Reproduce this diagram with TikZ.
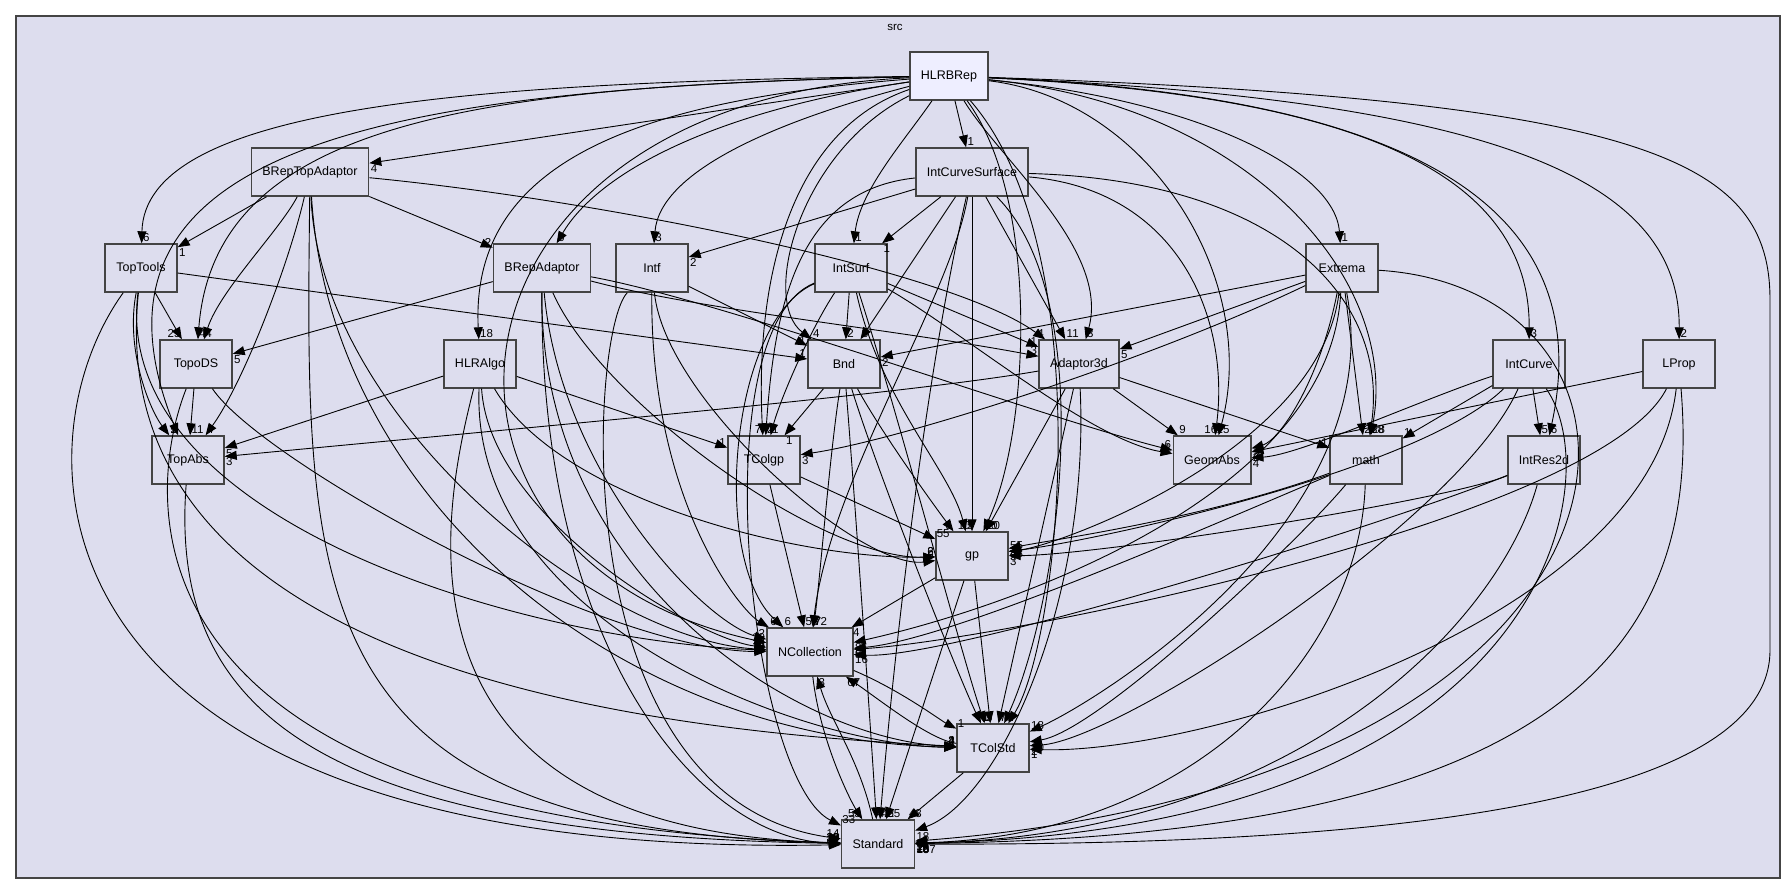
\documentclass[tikz,border=0pt]{standalone}
\usepackage{fontspec}
\setmainfont{Liberation Sans}
\usetikzlibrary{arrows.meta}
\definecolor{dirbg}{HTML}{DDDDEE}
\definecolor{topbg}{HTML}{EEEEFF}
\definecolor{boxline}{HTML}{444444}

\begin{document}
\begin{tikzpicture}[x=1pt, y=-1pt,
    dir/.style={draw=boxline, line width=1.4pt, fill=dirbg, minimum height=48pt,
        minimum width=72pt, inner xsep=11pt, font=\fontsize{12.5}{14}\selectfont},
    dep/.style={line width=0.9pt, -{Triangle[length=12pt,width=9pt]}},
    num/.style={pos=1, anchor=south west, inner sep=1pt, font=\fontsize{11.5}{12}\selectfont},
    numl/.style={num, anchor=south east},
    numr/.style={num, anchor=north west}]

    % Frame
    \useasboundingbox (0,0) rectangle (1792,895);
    \fill[white] (0,0) rectangle (1792,895);
    \draw[fill=dirbg, draw=boxline, line width=1.4pt] (16,16) rectangle (1780,878);
    \node[font=\fontsize{11.5}{12}\selectfont] (src) at (895,27) {src};

    % Directories
    \node[dir, fill=topbg] (HLRBRep) at (949,76) {HLRBRep};
    \node[dir] (BRepTopAdaptor) at (310,172) {BRepTopAdaptor};
    \node[dir] (IntCurveSurface) at (972,172) {IntCurveSurface};
    \node[dir] (TopTools) at (141,268) {TopTools};
    \node[dir] (BRepAdaptor) at (542,268) {BRepAdaptor};
    \node[dir] (Intf) at (652,268) {Intf};
    \node[dir] (IntSurf) at (851,268) {IntSurf};
    \node[dir] (Extrema) at (1342,268) {Extrema};
    \node[dir] (TopoDS) at (196,364) {TopoDS};
    \node[dir] (HLRAlgo) at (480,364) {HLRAlgo};
    \node[dir] (Bnd) at (844,364) {Bnd};
    \node[dir] (Adaptor3d) at (1079,364) {Adaptor3d};
    \node[dir] (IntCurve) at (1529,364) {IntCurve};
    \node[dir] (LProp) at (1679,364) {LProp};
    \node[dir] (TopAbs) at (188,460) {TopAbs};
    \node[dir] (TColgp) at (764,460) {TColgp};
    \node[dir] (GeomAbs) at (1212,460) {GeomAbs};
    \node[dir] (math) at (1366,460) {math};
    \node[dir] (IntRes2d) at (1544,460) {IntRes2d};
    \node[dir] (gp) at (972,556) {gp};
    \node[dir] (NCollection) at (810,652) {NCollection};
    \node[dir] (TColStd) at (993,748) {TColStd};
    \node[dir] (Standard) at (878,844) {Standard};

    % HLRBRep
    \draw[dep] (HLRBRep) -- (BRepTopAdaptor) node[numr]{4};
    \draw[dep] (HLRBRep) -- (IntCurveSurface) node[num]{1};
    \draw[dep] (HLRBRep) .. controls (450,82) and (145,110) .. (TopTools) node[num]{6};
    \draw[dep] (HLRBRep) .. controls (480,86) and (215,120) .. (TopoDS) node[num]{4};
    \draw[dep] (HLRBRep) .. controls (400,88) and (60,140) .. (TopAbs) node[numl]{9};
    \draw[dep] (HLRBRep) .. controls (720,110) and (600,170) .. (BRepAdaptor) node[num]{5};
    \draw[dep] (HLRBRep) .. controls (780,120) and (660,170) .. (Intf) node[num]{3};
    \draw[dep] (HLRBRep) .. controls (640,100) and (470,160) .. (HLRAlgo) node[num]{18};
    \draw[dep] (HLRBRep) .. controls (905,140) and (860,190) .. (IntSurf) node[num]{1};
    \draw[dep] (HLRBRep) .. controls (800,150) and (760,300) .. (Bnd) node[num]{4};
    \draw[dep] (HLRBRep) .. controls (790,130) and (755,280) .. (TColgp) node[numl]{7};
    \draw[dep] (HLRBRep) .. controls (1000,160) and (1110,250) .. (Adaptor3d) node[num]{3};
    \draw[dep] (HLRBRep) .. controls (1200,100) and (1335,170) .. (Extrema) node[num]{1};
    \draw[dep] (HLRBRep) .. controls (1150,100) and (1260,280) .. (GeomAbs) node[numl]{16};
    \draw[dep] (HLRBRep) .. controls (1250,105) and (1400,280) .. (math) node[num]{28};
    \draw[dep] (HLRBRep) .. controls (1040,200) and (1030,430) .. (gp) node[num]{20};
    \draw[dep] (HLRBRep) .. controls (1350,95) and (1530,170) .. (IntCurve) node[num]{3};
    \draw[dep] (HLRBRep) .. controls (1400,95) and (1600,200) .. (IntRes2d) node[num]{6};
    \draw[dep] (HLRBRep) .. controls (1500,100) and (1680,180) .. (LProp) node[num]{2};
    \draw[dep] (HLRBRep) .. controls (420,100) and (380,560) .. (NCollection) node[numl]{19};
    \draw[dep] (HLRBRep) .. controls (1100,250) and (1060,640) .. (TColStd) node[num]{7};
    \draw[dep] (HLRBRep) .. controls (1650,100) and (1770,160) .. (1770,300) -- (1770,650)
        .. controls (1770,820) and (1300,845) .. (Standard) node[numr]{187};

    % BRepTopAdaptor
    \draw[dep] (BRepTopAdaptor) -- (TopTools) node[numr]{1};
    \draw[dep] (BRepTopAdaptor) -- (BRepAdaptor) node[numl]{2};
    \draw[dep] (BRepTopAdaptor) .. controls (600,200) and (950,270) .. (Adaptor3d) node[numl]{4};
    \draw[dep] (BRepTopAdaptor) .. controls (280,230) and (220,290) .. (TopoDS) node[num]{4};
    \draw[dep] (BRepTopAdaptor) .. controls (290,260) and (245,380) .. (TopAbs) node[num]{4};
    \draw[dep] (BRepTopAdaptor) .. controls (320,420) and (600,640) .. (NCollection) node[numl]{4};
    \draw[dep] (BRepTopAdaptor) .. controls (330,500) and (620,740) .. (TColStd) node[numl]{2};
    \draw[dep] (BRepTopAdaptor) .. controls (305,600) and (300,830) .. (Standard) node[numl]{8};

    % IntCurveSurface
    \draw[dep] (IntCurveSurface) -- (Intf) node[numr]{2};
    \draw[dep] (IntCurveSurface) -- (IntSurf) node[numr]{1};
    \draw[dep] (IntCurveSurface) -- (Bnd) node[num]{3};
    \draw[dep] (IntCurveSurface) .. controls (800,190) and (775,300) .. (TColgp) node[num]{2};
    \draw[dep] (IntCurveSurface) -- (Adaptor3d) node[num]{11};
    \draw[dep] (IntCurveSurface) .. controls (1180,190) and (1230,320) .. (GeomAbs) node[num]{15};
    \draw[dep] (IntCurveSurface) .. controls (1280,180) and (1390,300) .. (math) node[num]{38};
    \draw[dep] (IntCurveSurface) -- (gp) node[numl]{10};
    \draw[dep] (IntCurveSurface) .. controls (950,300) and (830,480) .. (NCollection) node[num]{72};
    \draw[dep] (IntCurveSurface) .. controls (1100,300) and (1060,600) .. (TColStd) node[num]{7};
    \draw[dep] (IntCurveSurface) .. controls (920,400) and (890,700) .. (Standard) node[num]{42};

    % TopTools
    \draw[dep] (TopTools) -- (TopoDS) node[numl]{25};
    \draw[dep] (TopTools) .. controls (125,350) and (150,410) .. (TopAbs) node[num]{2};
    \draw[dep] (TopTools) -- (Bnd) node[numl]{1};
    \draw[dep] (TopTools) .. controls (110,520) and (520,640) .. (NCollection) node[numl]{5};
    \draw[dep] (TopTools) .. controls (100,660) and (620,730) .. (TColStd) node[numl]{4};
    \draw[dep] (TopTools) .. controls (10,450) and (20,860) .. (Standard) node[numl]{31};

    % BRepAdaptor
    \draw[dep] (BRepAdaptor) -- (TopoDS) node[numr]{5};
    \draw[dep] (BRepAdaptor) .. controls (700,310) and (900,330) .. (Adaptor3d) node[numl]{3};
    \draw[dep] (BRepAdaptor) .. controls (720,300) and (1050,420) .. (GeomAbs) node[numl]{6};
    \draw[dep] (BRepAdaptor) .. controls (600,400) and (820,560) .. (gp) node[numl]{6};
    \draw[dep] (BRepAdaptor) .. controls (560,470) and (700,620) .. (NCollection) node[numl]{2};
    \draw[dep] (BRepAdaptor) .. controls (540,580) and (800,740) .. (TColStd) node[numl]{3};
    \draw[dep] (BRepAdaptor) .. controls (540,650) and (700,840) .. (Standard) node[numl]{9};

    % Intf
    \draw[dep] (Intf) -- (Bnd) node[numl]{1};
    \draw[dep] (Intf) .. controls (665,400) and (860,570) .. (gp) node[numl]{6};
    \draw[dep] (Intf) .. controls (650,500) and (740,610) .. (NCollection) node[num]{6};
    \draw[dep] (Intf) .. controls (590,330) and (560,800) .. (Standard) node[numl]{14};

    % IntSurf
    \draw[dep] (IntSurf) -- (Bnd) node[num]{2};
    \draw[dep] (IntSurf) .. controls (810,330) and (780,400) .. (TColgp) node[num]{1};
    \draw[dep] (IntSurf) -- (Adaptor3d) node[numl]{1};
    \draw[dep] (IntSurf) .. controls (960,330) and (1090,440) .. (GeomAbs) node[numl]{1};
    \draw[dep] (IntSurf) .. controls (880,400) and (950,470) .. (gp) node[num]{5};
    \draw[dep] (IntSurf) .. controls (730,320) and (710,560) .. (NCollection) node[num]{6};
    \draw[dep] (IntSurf) .. controls (900,420) and (960,650) .. (TColStd) node[num]{3};
    \draw[dep] (IntSurf) .. controls (700,330) and (750,780) .. (Standard) node[num]{33};

    % Extrema
    \draw[dep] (Extrema) -- (Bnd) node[numr]{2};
    \draw[dep] (Extrema) -- (Adaptor3d) node[numr]{5};
    \draw[dep] (Extrema) .. controls (1150,360) and (900,440) .. (TColgp) node[numr]{3};
    \draw[dep] (Extrema) .. controls (1320,380) and (1280,440) .. (GeomAbs) node[numr]{2};
    \draw[dep] (Extrema) -- (math) node[num]{27};
    \draw[dep] (Extrema) .. controls (1320,450) and (1060,545) .. (gp) node[num]{55};
    \draw[dep] (Extrema) .. controls (1330,500) and (1000,610) .. (NCollection) node[numr]{8};
    \draw[dep] (Extrema) .. controls (1390,520) and (1100,700) .. (TColStd) node[num]{18};
    \draw[dep] (Extrema) .. controls (1700,290) and (1690,780) .. (Standard) node[numr]{24};

    % TopoDS
    \draw[dep] (TopoDS) -- (TopAbs) node[num]{11};
    \draw[dep] (TopoDS) .. controls (260,460) and (600,650) .. (NCollection) node[numl]{16};
    \draw[dep] (TopoDS) .. controls (150,480) and (90,820) .. (Standard) node[numl]{39};

    % HLRAlgo
    \draw[dep] (HLRAlgo) -- (TopAbs) node[numr]{5};
    \draw[dep] (HLRAlgo) -- (TColgp) node[numl]{1};
    \draw[dep] (HLRAlgo) .. controls (560,500) and (800,560) .. (gp) node[numl]{2};
    \draw[dep] (HLRAlgo) .. controls (490,520) and (700,640) .. (NCollection) node[numl]{4};
    \draw[dep] (HLRAlgo) .. controls (470,620) and (800,745) .. (TColStd) node[numl]{4};
    \draw[dep] (HLRAlgo) .. controls (440,520) and (380,830) .. (Standard) node[numl]{29};

    % Bnd
    \draw[dep] (Bnd) -- (TColgp) node[numr]{1};
    \draw[dep] (Bnd) .. controls (880,430) and (930,500) .. (gp) node[numl]{5};
    \draw[dep] (Bnd) .. controls (830,450) and (820,580) .. (NCollection) node[num]{7};
    \draw[dep] (Bnd) .. controls (880,480) and (960,680) .. (TColStd) node[num]{1};
    \draw[dep] (Bnd) .. controls (855,500) and (870,720) .. (Standard) node[num]{42};

    % Adaptor3d
    \draw[dep] (Adaptor3d) .. controls (900,395) and (500,430) .. (TopAbs) node[numr]{3};
    \draw[dep] (Adaptor3d) -- (GeomAbs) node[num]{9};
    \draw[dep] (Adaptor3d) -- (math) node[numl]{1};
    \draw[dep] (Adaptor3d) -- (gp) node[num]{20};
    \draw[dep] (Adaptor3d) -- (TColStd) node[num]{7};
    \draw[dep] (Adaptor3d) .. controls (1090,600) and (1000,800) .. (Standard) node[numr]{18};

    % IntCurve
    \draw[dep] (IntCurve) .. controls (1420,400) and (1300,455) .. (GeomAbs) node[numr]{4};
    \draw[dep] (IntCurve) -- (math) node[num]{1};
    \draw[dep] (IntCurve) -- (IntRes2d) node[num]{5};
    \draw[dep] (IntCurve) .. controls (1420,470) and (1100,540) .. (gp) node[numr]{9};
    \draw[dep] (IntCurve) .. controls (1460,520) and (1120,740) .. (TColStd) node[numr]{2};
    \draw[dep] (IntCurve) .. controls (1610,480) and (1550,830) .. (Standard) node[numr]{26};

    % LProp
    \draw[dep] (LProp) -- (GeomAbs) node[numr]{2};
    \draw[dep] (LProp) .. controls (1600,520) and (1000,640) .. (NCollection) node[numr]{8};
    \draw[dep] (LProp) .. controls (1650,620) and (1200,755) .. (TColStd) node[numr]{1};
    \draw[dep] (LProp) .. controls (1700,620) and (1600,835) .. (Standard) node[numr]{10};

    % TopAbs, TColgp
    \draw[dep] (TopAbs) .. controls (170,700) and (300,835) .. (Standard) node[numl]{5};
    \draw[dep] (TColgp) -- (gp) node[num]{55};
    \draw[dep] (TColgp) -- (NCollection) node[num]{58};

    % math
    \draw[dep] (math) .. controls (1200,520) and (1050,540) .. (gp) node[numr]{48};
    \draw[dep] (math) .. controls (1200,530) and (950,640) .. (NCollection) node[numr]{6};
    \draw[dep] (math) .. controls (1300,540) and (1100,730) .. (TColStd) node[numr]{10};
    \draw[dep] (math) .. controls (1360,650) and (1200,835) .. (Standard) node[numr]{28};

    % IntRes2d
    \draw[dep] (IntRes2d) .. controls (1450,500) and (1100,555) .. (gp) node[numr]{3};
    \draw[dep] (IntRes2d) .. controls (1400,520) and (950,660) .. (NCollection) node[numr]{16};
    \draw[dep] (IntRes2d) .. controls (1500,620) and (1300,835) .. (Standard) node[numr]{12};

    % gp, NCollection, TColStd
    \draw[dep] (gp) -- (NCollection) node[numr]{4};
    \draw[dep] (gp) -- (TColStd) node[numl]{1};
    \draw[dep] (gp) -- (Standard) node[num]{55};
    \draw[dep] (NCollection) .. controls (820,740) and (850,800) .. (Standard) node[numl]{53};
    \draw[dep] (Standard) .. controls (860,760) and (830,720) .. (NCollection) node[numr]{3};
    \draw[dep] (NCollection) .. controls (900,690) and (940,720) .. (TColStd) node[num]{1};
    \draw[dep] (TColStd) .. controls (930,740) and (880,700) .. (NCollection) node[numr]{67};
    \draw[dep] (TColStd) -- (Standard) node[num]{43};
\end{tikzpicture}
\end{document}
